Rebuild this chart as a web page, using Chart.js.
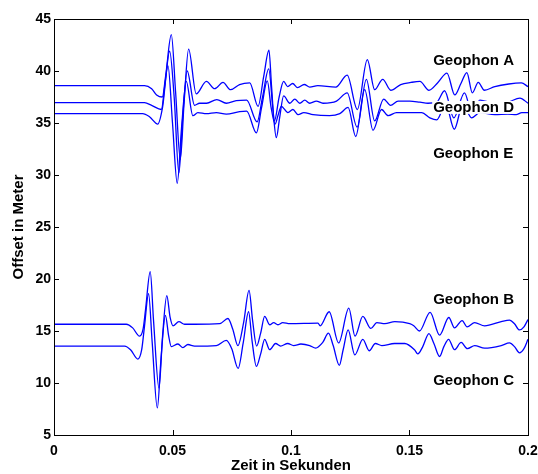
<!DOCTYPE html>
<html>
<head>
<meta charset="utf-8">
<script src="https://cdn.jsdelivr.net/npm/chart.js@4/dist/chart.umd.min.js"></script>
<style>
  html, body { margin: 0; padding: 0; background: #fff; }
  #wrap { width: 538px; height: 474px; }
</style>
</head>
<body>
<div id="wrap"><canvas id="chart"></canvas></div>
<script>
// Geophon-Spuren: [Zeit in s, Offset in m]
const geophonA = [
  [0, 38.6], [0.0382, 38.6], [0.0412, 38.3], [0.0433, 37.7], [0.0457, 37.5], [0.0471, 39.5],
  [0.0495, 43.5], [0.0513, 38.0], [0.0533, 31.5], [0.0549, 37.0], [0.0568, 42.1], [0.0600, 37.8],
  [0.0643, 39.0], [0.0678, 38.3], [0.0713, 38.9], [0.0745, 38.2], [0.0783, 38.7], [0.0826, 38.85],
  [0.0861, 36.6], [0.0885, 39.5], [0.0907, 42.0], [0.0918, 38.5], [0.0930, 35.2], [0.0950, 37.5],
  [0.0969, 39.0], [0.0986, 38.5], [0.1007, 38.8], [0.1028, 38.4], [0.1056, 38.7], [0.1079, 38.45],
  [0.1113, 38.6], [0.1189, 38.45], [0.1237, 39.6], [0.1280, 36.3], [0.1322, 41.1], [0.1353, 38.2],
  [0.1387, 39.2], [0.1421, 38.15], [0.1463, 38.7], [0.1506, 38.9], [0.1544, 39.0], [0.1582, 38.15],
  [0.1620, 38.9], [0.1658, 39.8], [0.1691, 37.7], [0.1717, 38.8], [0.1742, 39.85], [0.1765, 37.9],
  [0.1790, 38.9], [0.1816, 38.15], [0.1860, 38.5], [0.1919, 38.75], [0.1972, 38.85], [0.2000, 38.5]
];
const geophonD = [
  [0, 36.95], [0.0382, 36.95], [0.0412, 36.7], [0.0453, 36.3], [0.0467, 38.5], [0.0488, 41.9],
  [0.0507, 37.5], [0.0527, 30.2], [0.0543, 35.5], [0.0562, 40.0], [0.0593, 36.7], [0.0614, 36.9],
  [0.0644, 36.9], [0.0687, 37.25], [0.0727, 36.9], [0.0769, 37.15], [0.0813, 37.2], [0.0857, 35.1],
  [0.0880, 37.5], [0.0906, 40.2], [0.0923, 36.5], [0.0938, 33.6], [0.0952, 35.5], [0.0969, 37.6],
  [0.0995, 36.9], [0.1016, 37.3], [0.1037, 36.9], [0.1058, 37.2], [0.1079, 36.9], [0.1107, 37.1],
  [0.1135, 36.9], [0.1192, 37.1], [0.1237, 37.9], [0.1279, 34.6], [0.1318, 39.2], [0.1353, 35.2],
  [0.1391, 37.3], [0.1420, 36.7], [0.1452, 37.1], [0.1501, 37.1], [0.1544, 37.0], [0.1578, 36.9],
  [0.1615, 37.0], [0.1648, 38.1], [0.1687, 35.5], [0.1732, 37.9], [0.1763, 36.0], [0.1797, 37.2],
  [0.1860, 36.9], [0.1915, 37.0], [0.1966, 37.4], [0.2000, 36.9]
];
const geophonE = [
  [0, 35.9], [0.0374, 35.9], [0.0403, 35.6], [0.0438, 34.9], [0.0458, 36.5], [0.0481, 40.5],
  [0.0500, 35.0], [0.0520, 29.2], [0.0538, 34.5], [0.0558, 39.0], [0.0586, 35.7], [0.0607, 36.0],
  [0.0643, 35.9], [0.0685, 36.0], [0.0727, 35.85], [0.0783, 36.1], [0.0813, 36.15], [0.0854, 34.05],
  [0.0876, 36.5], [0.0900, 39.05], [0.0916, 36.5], [0.0933, 34.9], [0.0946, 35.8], [0.0959, 36.6],
  [0.0987, 36.0], [0.1008, 36.3], [0.1030, 35.8], [0.1054, 36.0], [0.1093, 35.8], [0.1163, 35.7],
  [0.1206, 35.9], [0.1241, 36.5], [0.1273, 33.7], [0.1311, 38.2], [0.1346, 34.3], [0.1382, 36.3],
  [0.1410, 35.7], [0.1445, 36.0], [0.1501, 36.0], [0.1552, 36.0], [0.1586, 35.5], [0.1615, 35.3],
  [0.1653, 36.8], [0.1689, 34.4], [0.1725, 36.8], [0.1762, 35.5], [0.1797, 36.0], [0.1860, 35.8],
  [0.1915, 35.85], [0.1950, 35.8], [0.1974, 36.0], [0.2000, 36.0]
];
const geophonB = [
  [0, 15.65], [0.0305, 15.65], [0.0332, 15.3], [0.0361, 14.5], [0.0376, 15.2], [0.0386, 17.0],
  [0.0406, 20.7], [0.0420, 16.0], [0.0443, 9.5], [0.0458, 14.5], [0.0476, 18.4], [0.0490, 16.3],
  [0.0502, 15.5], [0.0527, 15.9], [0.0551, 15.65], [0.0593, 15.65], [0.0699, 15.7], [0.0734, 16.2],
  [0.0754, 15.2], [0.0776, 13.6], [0.0800, 15.8], [0.0823, 18.9], [0.0838, 16.0], [0.0855, 13.55],
  [0.0872, 14.8], [0.0889, 16.4], [0.0910, 15.6], [0.0927, 15.8], [0.0945, 15.6], [0.0965, 15.8],
  [0.0995, 15.7], [0.1114, 15.75], [0.1123, 15.5], [0.1161, 16.85], [0.1201, 13.85], [0.1244, 17.2],
  [0.1270, 14.5], [0.1303, 16.4], [0.1337, 15.25], [0.1362, 15.8], [0.1396, 15.7], [0.1438, 15.9],
  [0.1501, 15.7], [0.1518, 15.5], [0.1542, 15.0], [0.1587, 16.8], [0.1627, 14.6], [0.1666, 16.3],
  [0.1690, 15.3], [0.1722, 16.0], [0.1743, 15.4], [0.1775, 15.8], [0.1817, 15.5], [0.1887, 15.9],
  [0.1922, 16.05], [0.1943, 15.7], [0.1964, 15.1], [0.1983, 15.4], [0.2000, 16.1]
];
const geophonC = [
  [0, 13.55], [0.0298, 13.55], [0.0323, 13.2], [0.0354, 12.3], [0.0370, 13.2], [0.0382, 15.5],
  [0.0399, 18.6], [0.0414, 14.0], [0.0436, 7.6], [0.0452, 12.5], [0.0470, 16.5], [0.0484, 14.5],
  [0.0495, 13.5], [0.0523, 13.75], [0.0544, 13.4], [0.0565, 13.7], [0.0593, 13.55], [0.0685, 13.6],
  [0.0727, 14.1], [0.0750, 13.3], [0.0777, 11.4], [0.0798, 13.8], [0.0821, 16.85], [0.0836, 14.0],
  [0.0854, 11.6], [0.0872, 12.8], [0.0889, 14.2], [0.0910, 13.2], [0.0935, 13.8], [0.0956, 13.55],
  [0.0986, 13.8], [0.1011, 13.6], [0.1042, 13.75], [0.1079, 13.6], [0.1104, 13.35], [0.1134, 13.9],
  [0.1158, 14.8], [0.1178, 13.6], [0.1204, 11.7], [0.1220, 13.2], [0.1241, 15.1], [0.1269, 12.7],
  [0.1303, 14.2], [0.1330, 13.1], [0.1356, 13.8], [0.1383, 13.6], [0.1437, 13.8], [0.1480, 13.8],
  [0.1521, 13.2], [0.1535, 12.8], [0.1556, 13.5], [0.1582, 14.75], [0.1603, 13.8], [0.1627, 12.55],
  [0.1645, 13.5], [0.1665, 14.2], [0.1690, 13.2], [0.1718, 13.9], [0.1744, 13.3], [0.1775, 13.6],
  [0.1817, 13.35], [0.1887, 13.6], [0.1922, 13.85], [0.1943, 13.5], [0.1964, 12.9], [0.1983, 13.3],
  [0.2000, 14.2]
];

// Beschriftungen der Spuren
const labelNames = ['Geophon A', 'Geophon D', 'Geophon E', 'Geophon B', 'Geophon C'];
const labelTimes = [0.16, 0.16, 0.16, 0.16, 0.16];
const labelOffsets = [41, 36.5, 32, 18, 10.2];

const FONT = '"Liberation Sans", Arial, Helvetica, sans-serif';

const toPoints = arr => arr.map(p => ({ x: p[0], y: p[1] }));

function trace(data) {
  return {
    data: toPoints(data),
    borderColor: '#0000ff',
    borderWidth: 1.3,
    pointRadius: 0,
    fill: false,
    cubicInterpolationMode: 'monotone'
  };
}

// Rahmen mit nach innen zeigenden Ticks (Matlab-Stil)
const boxPlugin = {
  id: 'box',
  afterDraw(chart) {
    const { ctx, chartArea: a, scales: { x, y } } = chart;
    ctx.save();
    ctx.strokeStyle = '#000';
    ctx.lineWidth = 1;
    ctx.strokeRect(a.left + 0.5, a.top + 0.5, a.right - a.left, a.bottom - a.top);
    const len = 5;
    ctx.beginPath();
    x.ticks.forEach(t => {
      const px = Math.round(x.getPixelForValue(t.value)) + 0.5;
      ctx.moveTo(px, a.bottom); ctx.lineTo(px, a.bottom - len);
      ctx.moveTo(px, a.top); ctx.lineTo(px, a.top + len);
    });
    y.ticks.forEach(t => {
      const py = Math.round(y.getPixelForValue(t.value)) + 0.5;
      ctx.moveTo(a.left, py); ctx.lineTo(a.left + len, py);
      ctx.moveTo(a.right, py); ctx.lineTo(a.right - len, py);
    });
    ctx.stroke();
    ctx.restore();
  }
};

// Textmarken mit weissem Hintergrund
const labelPlugin = {
  id: 'geoLabels',
  afterDatasetsDraw(chart) {
    const { ctx, scales: { x, y } } = chart;
    ctx.save();
    ctx.font = 'bold 15px ' + FONT;
    ctx.textBaseline = 'middle';
    labelNames.forEach((name, i) => {
      const px = x.getPixelForValue(labelTimes[i]);
      const py = y.getPixelForValue(labelOffsets[i]);
      const w = ctx.measureText(name).width;
      ctx.fillStyle = '#fff';
      ctx.fillRect(px - 1, py - 6.5, w + 2, 13);
      ctx.fillStyle = '#000';
      ctx.fillText(name, px, py);
    });
    ctx.restore();
  }
};

new Chart(document.getElementById('chart'), {
  type: 'line',
  data: {
    datasets: [trace(geophonA), trace(geophonD), trace(geophonE), trace(geophonB), trace(geophonC)]
  },
  options: {
    responsive: true,
    maintainAspectRatio: false,
    animation: false,
    events: [],
    layout: { padding: { left: 0, right: 10, top: 19, bottom: 0 } },
    plugins: { legend: { display: false }, tooltip: { enabled: false } },
    scales: {
      x: {
        type: 'linear',
        min: 0,
        max: 0.2,
        grid: { display: false, drawTicks: false },
        border: { display: false },
        ticks: {
          stepSize: 0.05, padding: 8, color: '#000', maxRotation: 0,
          font: { family: FONT, size: 14, weight: 'bold' },
          callback: v => String(+v.toFixed(2))
        },
        title: { display: true, text: 'Zeit in Sekunden', color: '#000', padding: { bottom: -1 }, font: { family: FONT, size: 15, weight: 'bold' } },
        afterFit(s) { s.height = 39; s.paddingLeft = 0; s.paddingRight = 0; }
      },
      y: {
        min: 5,
        max: 45,
        grid: { display: false, drawTicks: false },
        border: { display: false },
        ticks: { stepSize: 5, padding: 3, color: '#000', font: { family: FONT, size: 14, weight: 'bold' } },
        title: { display: true, text: 'Offset in Meter', color: '#000', padding: { top: 10 }, font: { family: FONT, size: 15, weight: 'bold' } },
        afterFit(s) { s.width = 54; s.paddingTop = 0; s.paddingBottom = 0; }
      }
    }
  },
  plugins: [boxPlugin, labelPlugin]
});
</script>
</body>
</html>
